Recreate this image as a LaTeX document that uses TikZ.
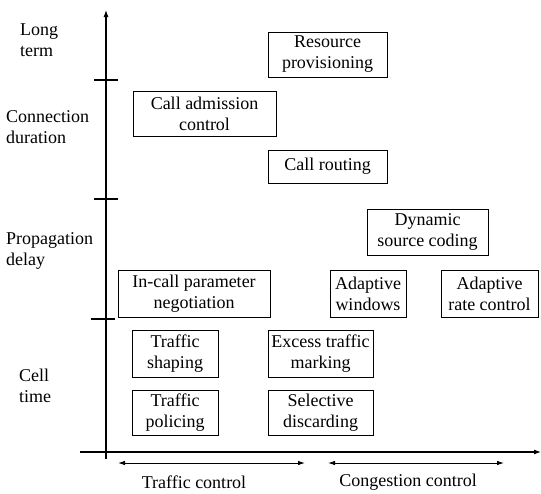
\documentclass[tikz,border=0pt]{standalone}
\usepackage{fontspec}
\setmainfont{Liberation Serif}
\usetikzlibrary{arrows.meta}
\begin{document}
\begin{tikzpicture}[x=1pt,y=-1pt,
  every node/.style={font=\fontsize{18}{21}\selectfont, inner sep=0pt},
  box/.style={draw, line width=0.9pt, align=center},
  lbl/.style={anchor=west, align=left},
  axis/.style={line width=1.1pt, -{Latex[length=7pt,width=5pt]}},
  span/.style={line width=0.9pt, {Latex[length=7pt,width=4.5pt]}-{Latex[length=7pt,width=4.5pt]}},
  tick/.style={line width=1.1pt}]
\useasboundingbox (0,0) rectangle (541,493);
% axes
\coordinate (vbot) at (106,459);
\coordinate (vtop) at (106,10);
\coordinate (hl) at (80,452);
\coordinate (hr) at (541,452);
\draw[axis] (vbot) -- (vtop);
\draw[axis] (hl) -- (hr);
% ticks
\coordinate (t1l) at (94,80);  \coordinate (t1r) at (118,80);
\coordinate (t2l) at (94,199); \coordinate (t2r) at (118,199);
\coordinate (t3l) at (91,319); \coordinate (t3r) at (115,319);
\draw[tick] (t1l) -- (t1r);
\draw[tick] (t2l) -- (t2r);
\draw[tick] (t3l) -- (t3r);
% spans
\coordinate (s1l) at (118,463); \coordinate (s1r) at (305,463);
\coordinate (s2l) at (328,463); \coordinate (s2r) at (504,463);
\draw[span] (s1l) -- (s1r);
\draw[span] (s2l) -- (s2r);
\node (tc) at (194,482) {Traffic control};
\node (cc) at (408,482) {Congestion control};
% left labels
\node[lbl] (lt) at (20,40) {Long\\term};
\node[lbl] (cd) at (6,127) {Connection\\duration};
\node[lbl] (pd) at (6,251) {Propagation\\delay};
\node[lbl] (ct) at (19,386) {Cell\\time};
% boxes
\node[box, minimum width=119, minimum height=45] (rp) at (327.5,54.5) {Resource\\provisioning};
\node[box, minimum width=143, minimum height=45] (cac) at (204.5,113.5) {Call admission\\control};
\node[box, minimum width=119, minimum height=33] (cr) at (327.5,166.5) {Call routing};
\node[box, minimum width=121, minimum height=46] (dsc) at (427.5,232) {Dynamic\\source coding};
\node[box, minimum width=152, minimum height=47] (icp) at (194,293.5) {In-call parameter\\negotiation};
\node[box, minimum width=76, minimum height=47] (aw) at (368,293.5) {Adaptive\\windows};
\node[box, minimum width=97, minimum height=47] (arc) at (489.5,293.5) {Adaptive\\rate control};
\node[box, minimum width=86, minimum height=47] (ts) at (175,353.5) {Traffic\\shaping};
\node[box, minimum width=86, minimum height=45] (tp) at (175,412.5) {Traffic\\policing};
\node[box, minimum width=105, minimum height=47] (etm) at (320.5,353.5) {Excess traffic\\marking};
\node[box, minimum width=105, minimum height=45] (sd) at (320.5,412.5) {Selective\\discarding};
\end{tikzpicture}
\end{document}
